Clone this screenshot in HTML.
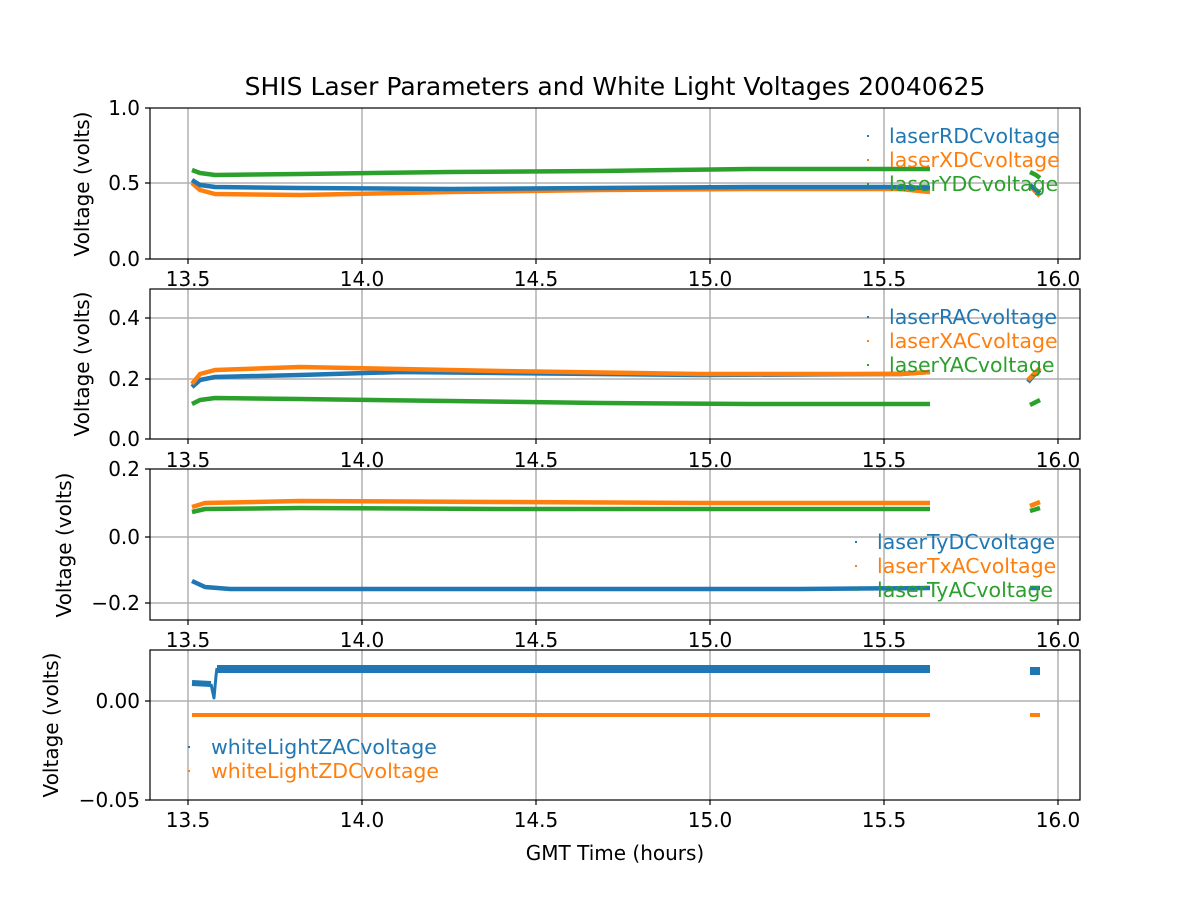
<!DOCTYPE html>
<html><head><style>body{margin:0;background:#fff}svg{display:block}text{font-family:"DejaVu Sans","Liberation Sans",sans-serif;fill:#000}</style></head><body>
<svg width="1200" height="900" xmlns="http://www.w3.org/2000/svg">
<rect width="1200" height="900" fill="#fff"/>
<text x="615" y="95" font-size="25" text-anchor="middle">SHIS Laser Parameters and White Light Voltages 20040625</text>
<g stroke="#b0b0b0" stroke-width="1.5">
<path d="M188 108V259M362 108V259M536 108V259M710 108V259M884 108V259M1058 108V259"/>
<path d="M188 289V439M362 289V439M536 289V439M710 289V439M884 289V439M1058 289V439"/>
<path d="M188 469V620M362 469V620M536 469V620M710 469V620M884 469V620M1058 469V620"/>
<path d="M188 650V800M362 650V800M536 650V800M710 650V800M884 650V800M1058 650V800"/>
<path d="M150 183H1080M150 379H1080M150 318H1080M150 537H1080M150 603H1080M150 701H1080"/>
</g>
<g fill="none" stroke-width="4.5" stroke-linejoin="round">
<polyline stroke="#ff7f0e" points="192,183 200,190 215,194 300,195 450,192 600,190 750,189 900,189 930,192"/>
<polyline stroke="#ff7f0e" points="1030,186 1036,192 1040,196"/>
<polyline stroke="#1f77b4" points="192,180 200,185 215,187 300,188 450,189 600,188 750,187 900,187 930,188"/>
<polyline stroke="#1f77b4" points="1030,185 1036,190 1040,193"/>
<polyline stroke="#2ca02c" points="192,170 200,173 215,175 300,174 450,172 600,171 750,169 900,169 930,169"/>
<polyline stroke="#2ca02c" points="1030,172 1036,175 1040,178"/>
<polyline stroke="#1f77b4" points="192,387 200,380 215,377 300,375 400,372 500,373 700,375 900,374 930,372"/>
<polyline stroke="#ff7f0e" points="192,384 200,374 215,370 300,367 400,369 500,371 700,374 900,374 930,372"/>
<polyline stroke="#1f77b4" points="1028,382 1034,375 1040,370"/>
<polyline stroke="#ff7f0e" points="1028,380 1034,374 1040,368"/>
<polyline stroke="#2ca02c" points="192,404 200,400 215,398 300,399 450,401 600,403 750,404 930,404"/>
<polyline stroke="#2ca02c" points="1030,405 1036,402 1040,400"/>
<polyline stroke="#ff7f0e" points="192,507 205,503 300,501 500,502 700,503 930,503"/>
<polyline stroke="#ff7f0e" points="1030,506 1040,502"/>
<polyline stroke="#2ca02c" points="192,512 205,509 300,508 500,509 700,509 930,509"/>
<polyline stroke="#2ca02c" points="1030,511 1040,508"/>
<polyline stroke="#1f77b4" points="192,581 205,587 230,589 400,589 600,589 800,589 930,588"/>
<polyline stroke="#1f77b4" points="1030,588 1040,588"/>
<polyline stroke="#1f77b4" stroke-width="6" points="192,683 211,684"/>
<polyline stroke="#1f77b4" stroke-width="3" points="211,684 214,698 216,676 217,668"/>
<polyline stroke="#1f77b4" stroke-width="8" points="217,669 930,669"/>
<polyline stroke="#1f77b4" stroke-width="8" points="1030,671 1040,671"/>
<polyline stroke="#ff7f0e" stroke-width="4" points="192,715 930,715"/>
<polyline stroke="#ff7f0e" stroke-width="4" points="1030,715 1040,715"/>
</g>
<g fill="none" stroke="#000" stroke-width="1.2">
<rect x="150" y="108" width="930" height="151"/>
<rect x="150" y="289" width="930" height="150"/>
<rect x="150" y="469" width="930" height="151"/>
<rect x="150" y="650" width="930" height="150"/>
<path d="M188 259v5M362 259v5M536 259v5M710 259v5M884 259v5M1058 259v5M188 439v5M362 439v5M536 439v5M710 439v5M884 439v5M1058 439v5M188 620v5M362 620v5M536 620v5M710 620v5M884 620v5M1058 620v5M188 800v5M362 800v5M536 800v5M710 800v5M884 800v5M1058 800v5"/>
<path d="M150 259h-5M150 183h-5M150 108h-5M150 439h-5M150 379h-5M150 318h-5M150 469h-5M150 537h-5M150 603h-5M150 701h-5M150 800h-5"/>
</g>
<g font-size="20" text-anchor="middle">
<text x="188" y="286">13.5</text><text x="362" y="286">14.0</text><text x="536" y="286">14.5</text><text x="710" y="286">15.0</text><text x="884" y="286">15.5</text><text x="1058" y="286">16.0</text>
<text x="188" y="467">13.5</text><text x="362" y="467">14.0</text><text x="536" y="467">14.5</text><text x="710" y="467">15.0</text><text x="884" y="467">15.5</text><text x="1058" y="467">16.0</text>
<text x="188" y="647">13.5</text><text x="362" y="647">14.0</text><text x="536" y="647">14.5</text><text x="710" y="647">15.0</text><text x="884" y="647">15.5</text><text x="1058" y="647">16.0</text>
<text x="188" y="827">13.5</text><text x="362" y="827">14.0</text><text x="536" y="827">14.5</text><text x="710" y="827">15.0</text><text x="884" y="827">15.5</text><text x="1058" y="827">16.0</text>
<text x="615" y="860">GMT Time (hours)</text>
</g>
<g font-size="20" text-anchor="end">
<text x="140" y="266">0.0</text><text x="140" y="190">0.5</text><text x="140" y="115">1.0</text>
<text x="140" y="446">0.0</text><text x="140" y="386">0.2</text><text x="140" y="325">0.4</text>
<text x="140" y="476">0.2</text><text x="140" y="544">0.0</text><text x="140" y="610">−0.2</text>
<text x="140" y="708">0.00</text><text x="140" y="807">−0.05</text>
</g>
<g font-size="20" text-anchor="middle">
<text transform="translate(89,184) rotate(-90)">Voltage (volts)</text>
<text transform="translate(89,364) rotate(-90)">Voltage (volts)</text>
<text transform="translate(71,545) rotate(-90)">Voltage (volts)</text>
<text transform="translate(58,725) rotate(-90)">Voltage (volts)</text>
</g>
<g font-size="20.5">
<text x="889" y="143" style="fill:#1f77b4">laserRDCvoltage</text>
<text x="889" y="167" style="fill:#ff7f0e">laserXDCvoltage</text>
<text x="889" y="191" style="fill:#2ca02c">laserYDCvoltage</text>
<text x="889" y="324" style="fill:#1f77b4">laserRACvoltage</text>
<text x="889" y="348" style="fill:#ff7f0e">laserXACvoltage</text>
<text x="889" y="372" style="fill:#2ca02c">laserYACvoltage</text>
<text x="877" y="549" style="fill:#1f77b4">laserTyDCvoltage</text>
<text x="877" y="573" style="fill:#ff7f0e">laserTxACvoltage</text>
<text x="877" y="597" style="fill:#2ca02c">laserTyACvoltage</text>
<text x="211" y="754" style="fill:#1f77b4">whiteLightZACvoltage</text>
<text x="211" y="778" style="fill:#ff7f0e">whiteLightZDCvoltage</text>
</g>
<g>
<rect x="867" y="135" width="2" height="2" fill="#1f77b4"/><rect x="867" y="159" width="2" height="2" fill="#ff7f0e"/><rect x="867" y="183" width="2" height="2" fill="#2ca02c"/>
<rect x="867" y="316" width="2" height="2" fill="#1f77b4"/><rect x="867" y="340" width="2" height="2" fill="#ff7f0e"/><rect x="867" y="364" width="2" height="2" fill="#2ca02c"/>
<rect x="855" y="541" width="2" height="2" fill="#1f77b4"/><rect x="855" y="565" width="2" height="2" fill="#ff7f0e"/><rect x="855" y="589" width="2" height="2" fill="#2ca02c"/>
<rect x="188" y="746" width="2" height="2" fill="#1f77b4"/><rect x="188" y="770" width="2" height="2" fill="#ff7f0e"/>
</g>
</svg>
</body></html>
